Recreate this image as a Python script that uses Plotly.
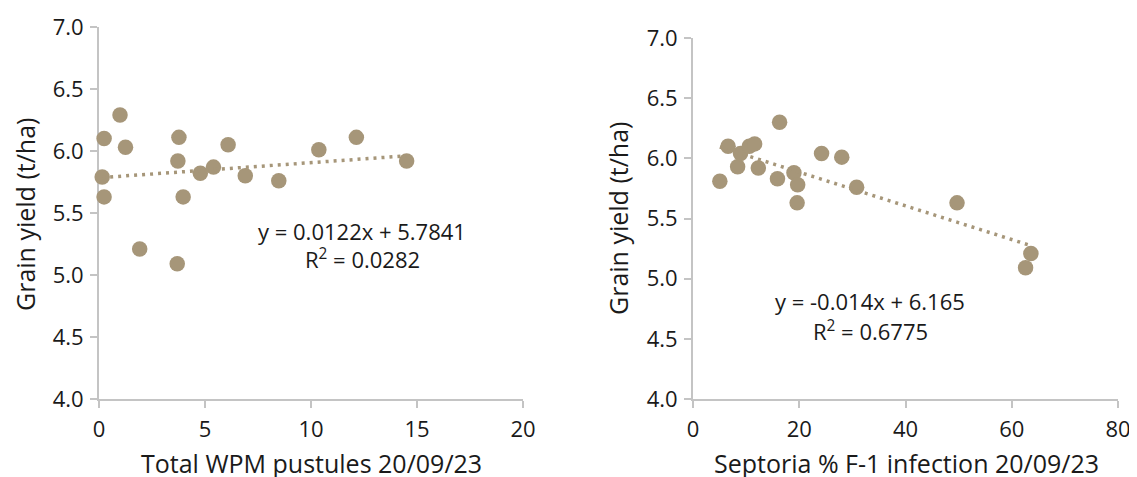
import plotly.graph_objects as go

# ---- data ----
wpm_pustules = [0.24, 0.99, 1.25, 0.15, 0.24, 1.92, 3.77, 3.72, 3.69, 3.97,
                4.78, 5.40, 6.09, 6.90, 8.48, 10.37, 12.14, 14.51]
yield_wpm = [6.10, 6.29, 6.03, 5.79, 5.63, 5.21, 6.11, 5.92, 5.09, 5.63,
             5.82, 5.87, 6.05, 5.80, 5.76, 6.01, 6.11, 5.92]

septoria_pct = [5.05, 6.6, 8.4, 8.95, 10.6, 11.6, 12.3, 16.3, 15.9, 19.0,
                19.7, 19.6, 24.2, 28.0, 30.8, 49.7, 63.6, 62.6]
yield_sept = [5.81, 6.10, 5.93, 6.04, 6.10, 6.12, 5.92, 6.30, 5.83, 5.88,
              5.78, 5.63, 6.04, 6.01, 5.76, 5.63, 5.21, 5.09]

# trendline coefficients as printed on the chart
trend_wpm = (0.0122, 5.7841)
trend_sept = (-0.014, 6.165)

eq_wpm = ["y = 0.0122x + 5.7841", "R<sup>2</sup> = 0.0282"]
eq_sept = ["y = -0.014x + 6.165", "R<sup>2</sup> = 0.6775"]

x_title_wpm = "Total WPM pustules 20/09/23"
x_title_sept = "Septoria % F-1 infection 20/09/23"
y_title = "Grain yield (t/ha)"

# ---- style ----
OFF = 8                    # default page body margin
W, H = 1137 - OFF, 477 - OFF
MARK = "#A69679"
AXC = "#C4C4C4"
TXT = "#1A1A1A"
FONT = "Open Sans"
FS_TICK = 22
FS_TITLE = 25
FS_EQ = 22


def px(x):
    return (x - OFF) / W


def py(y):
    return (H - (y - OFF)) / H


fig = go.Figure()

def add_panel(xs, ys, coef, xa, ya):
    fig.add_trace(go.Scatter(
        x=xs, y=ys, mode="markers", xaxis=xa, yaxis=ya, cliponaxis=False,
        marker=dict(size=15.5, color=MARK, line=dict(width=0)),
        showlegend=False, hoverinfo="x+y"))
    x0, x1 = min(xs), max(xs)
    m, b = coef
    fig.add_trace(go.Scatter(
        x=[x0, x1], y=[m * x0 + b, m * x1 + b], mode="lines",
        xaxis=xa, yaxis=ya, cliponaxis=False,
        line=dict(color=MARK, width=3.5, dash="3px,5px"),
        showlegend=False, hoverinfo="skip"))

add_panel(wpm_pustules, yield_wpm, trend_wpm, "x", "y")
add_panel(septoria_pct, yield_sept, trend_sept, "x2", "y2")

axis_common = dict(
    showline=True, linecolor=AXC, linewidth=2,
    ticks="outside", ticklen=7, tickcolor=AXC, tickwidth=2,
    showgrid=False, zeroline=False, layer="below traces", automargin=False,
    tickfont=dict(family=FONT, size=FS_TICK, color=TXT),
)

fig.update_layout(
    width=W, height=H,
    margin=dict(l=0, r=0, t=0, b=0, pad=0),
    paper_bgcolor="white", plot_bgcolor="white",
    font=dict(family=FONT, size=FS_TICK, color=TXT),
    xaxis=dict(domain=[px(99), px(523)], range=[0, 20], dtick=5, anchor="y",
               ticklabelstandoff=3, **axis_common),
    yaxis=dict(domain=[py(399), py(27)], range=[4, 7], dtick=0.5, tickformat=".1f",
               anchor="x", ticklabelstandoff=2, **axis_common),
    xaxis2=dict(domain=[px(693), px(1118)], range=[0, 80], dtick=20, anchor="y2",
                ticklabelstandoff=3, **axis_common),
    yaxis2=dict(domain=[py(399), py(38)], range=[4, 7], dtick=0.5, tickformat=".1f",
                anchor="x2", ticklabelstandoff=2, **axis_common),
)

ann = []
# axis titles
ann.append(dict(text=x_title_wpm, x=px(311), y=py(463), xref="paper", yref="paper",
                showarrow=False, xanchor="center", yanchor="middle",
                font=dict(size=FS_TITLE)))
ann.append(dict(text=x_title_sept, x=px(906), y=py(463), xref="paper", yref="paper",
                showarrow=False, xanchor="center", yanchor="middle",
                font=dict(size=FS_TITLE)))
ann.append(dict(text=y_title, x=px(25), y=py(215), xref="paper", yref="paper",
                textangle=-90, showarrow=False, xanchor="center", yanchor="middle",
                font=dict(size=FS_TITLE)))
ann.append(dict(text=y_title, x=px(618), y=py(219), xref="paper", yref="paper",
                textangle=-90, showarrow=False, xanchor="center", yanchor="middle",
                font=dict(size=FS_TITLE)))
# equations
ann.append(dict(text=eq_wpm[0], x=px(362), y=py(231), xref="paper", yref="paper",
                showarrow=False, xanchor="center", yanchor="middle",
                font=dict(size=FS_EQ)))
ann.append(dict(text=eq_wpm[1], x=px(362), y=py(258), xref="paper", yref="paper",
                showarrow=False, xanchor="center", yanchor="middle",
                font=dict(size=FS_EQ)))
ann.append(dict(text=eq_sept[0], x=px(870), y=py(301), xref="paper", yref="paper",
                showarrow=False, xanchor="center", yanchor="middle",
                font=dict(size=FS_EQ)))
ann.append(dict(text=eq_sept[1], x=px(870), y=py(330), xref="paper", yref="paper",
                showarrow=False, xanchor="center", yanchor="middle",
                font=dict(size=FS_EQ)))
fig.update_layout(annotations=ann)

fig.write_html("out.html")
